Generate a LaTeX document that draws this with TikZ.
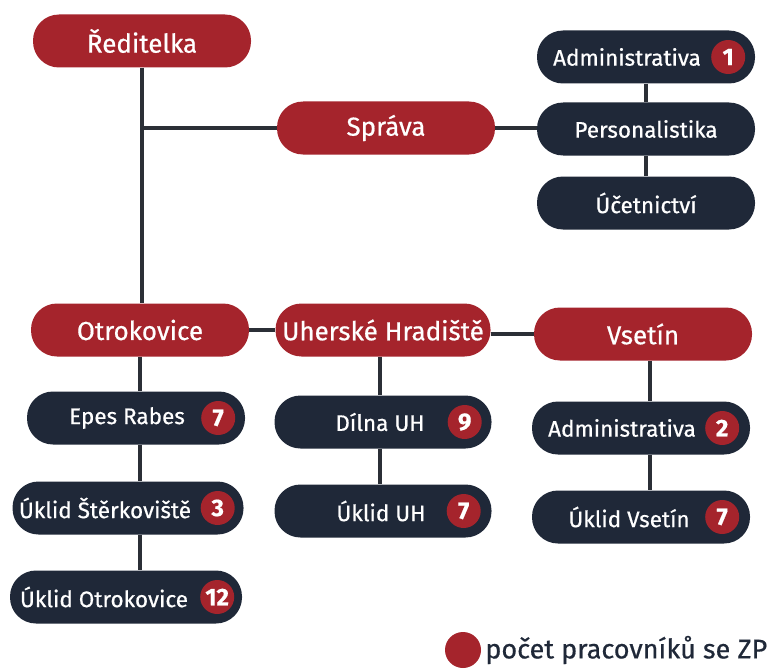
\documentclass[tikz,border=0pt]{standalone}
\usepackage{fontspec}
\setmainfont{Fira Sans}[FakeBold=0.6]
\usetikzlibrary{positioning,calc}
\definecolor{zpred}{RGB}{165,36,44}
\definecolor{zpnavy}{RGB}{31,40,56}
\definecolor{zpline}{RGB}{43,47,54}
\tikzset{
  redbox/.style={rectangle,rounded corners=26pt,fill=zpred,text=white,
    minimum width=218pt,minimum height=53pt,font=\fontsize{26}{30}\selectfont},
  darkbox/.style={rectangle,rounded corners=26pt,fill=zpnavy,text=white,
    minimum width=218pt,minimum height=53pt,font=\fontsize{22.5}{26}\selectfont},
  boxtext/.style={text=white,inner sep=0pt,font=\fontsize{22.5}{26}\selectfont},
  badge/.style={circle,fill=zpred,text=white,minimum size=34pt,inner sep=0pt,
    font=\fontsize{24}{28}\selectfont\bfseries},
  link/.style={draw=zpline,line width=4pt}
}
\begin{document}
\begin{tikzpicture}[x=1pt,y=-1pt]
\useasboundingbox (0,0) rectangle (769,669);
% Head and Sprava
  \node[redbox] (dir) at (142,41) {Ředitelka};
  \node[redbox] (sprava) at (386,128) {Správa};
  \node[darkbox] (adm1) at (646,57) {};
  \node[boxtext] (adm1-t) at (627,57) {Administrativa};
  \node[badge] (adm1-n) at ([xshift=-27pt]adm1.east) {1};
  \node[darkbox] (pers) at (646,129) {Personalistika};
  \node[darkbox] (ucet) at (646,203) {Účetnictví};
% Branches
  \node[redbox] (otro) at (140,330) {Otrokovice};
  \node[redbox,minimum width=215pt] (uh) at (383,330) {Uherské Hradiště};
  \node[redbox] (vset) at (643,334) {Vsetín};
% Otrokovice column
  \node[darkbox] (epes) at (136,418) {};
  \node[boxtext] (epes-t) at (127,418) {Epes Rabes};
  \node[badge] (epes-n) at ([xshift=-27pt]epes.east) {7};
  \node[darkbox,minimum width=231pt] (sterk) at (128,508) {};
  \node[boxtext] (sterk-t) at (105,508) {Úklid Štěrkoviště};
  \node[badge] (sterk-n) at ([xshift=-26pt]sterk.east) {3};
  \node[darkbox,minimum width=232pt] (uotro) at (126,597) {};
  \node[boxtext] (uotro-t) at (104,597) {Úklid Otrokovice};
  \node[badge] (uotro-n) at ([xshift=-25pt]uotro.east) {12};
% Uherske Hradiste column
  \node[darkbox,minimum width=217pt] (dilna) at (383,422) {};
  \node[boxtext] (dilna-t) at (380,422) {Dílna UH};
  \node[badge] (dilna-n) at ([xshift=-27pt]dilna.east) {9};
  \node[darkbox,minimum width=217pt] (uuh) at (383,511) {};
  \node[boxtext] (uuh-t) at (381,511) {Úklid UH};
  \node[badge] (uuh-n) at ([xshift=-28pt]uuh.east) {7};
% Vsetin column
  \node[darkbox] (adm2) at (641,428) {};
  \node[boxtext] (adm2-t) at (622,428) {Administrativa};
  \node[badge] (adm2-n) at ([xshift=-28pt]adm2.east) {2};
  \node[darkbox] (uvset) at (641,517) {};
  \node[boxtext] (uvset-t) at (629,517) {Úklid Vsetín};
  \node[badge] (uvset-n) at ([xshift=-28pt]uvset.east) {7};
% Connectors
  \draw[link] (dir.south) -- (dir.south |- otro.north);
  \coordinate (fork) at (dir.south |- sprava.west);
  \draw[link] (fork) -- (sprava.west);
  \draw[link] (sprava.east) -- (sprava.east -| pers.west);
  \draw[link] (adm1.south) -- (pers.north);
  \draw[link] (pers.south) -- (ucet.north);
  \draw[link] (otro.east) -- (otro.east -| uh.west);
  \draw[link] (uh.east |- vset.west) -- (vset.west);
  \draw[link] (otro.south) -- (otro.south |- epes.north);
  \draw[link] (otro.south |- epes.south) -- (otro.south |- sterk.north);
  \draw[link] (otro.south |- sterk.south) -- (otro.south |- uotro.north);
  \draw[link] ([xshift=-3pt]uh.south) -- ([xshift=-3pt]dilna.north);
  \draw[link] ([xshift=-3pt]dilna.south) -- ([xshift=-3pt]uuh.north);
  \draw[link] ([xshift=7pt]vset.south) -- ([xshift=9pt]adm2.north);
  \draw[link] ([xshift=9pt]adm2.south) -- ([xshift=9pt]uvset.north);
% Legend
  \node[circle,fill=zpred,minimum size=36pt,inner sep=0pt] (key) at (463,650) {};
  \node[right=4pt of key,inner sep=0pt,text=zpnavy,font=\fontsize{27}{30}\selectfont] (key-t) {počet pracovníků se ZP};
\end{tikzpicture}
\end{document}
